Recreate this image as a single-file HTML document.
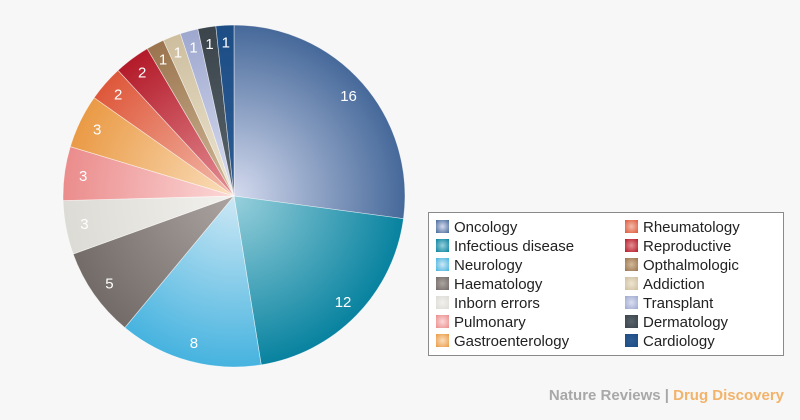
<!DOCTYPE html>
<html><head><meta charset="utf-8"><style>
html,body{margin:0;padding:0;background:#f7f7f7;}
body{width:800px;height:420px;position:relative;overflow:hidden;font-family:"Liberation Sans",sans-serif;}
.leg{position:absolute;left:428px;top:212px;width:356px;height:144px;border:1px solid #8a8a8a;background:#fff;box-sizing:border-box;}
.it{position:absolute;font-size:15px;color:#222;line-height:19px;white-space:nowrap;}
.sw{display:inline-block;width:13px;height:13px;vertical-align:-1px;margin-right:5px;}
.foot{position:absolute;right:16px;top:387px;font-size:15px;font-weight:bold;color:#a8a8a8;}
</style></head><body>
<svg id="pie" width="800" height="420" style="position:absolute;left:0;top:0"></svg>
<div class="leg" id="leg"></div>
<div class="foot">Nature Reviews | <span style="color:#f2b36a">Drug Discovery</span></div>
<script>
var d=[["Oncology",16,"#d4daee","#46699a"],["Infectious disease",12,"#98d0dc","#07829f"],["Neurology",8,"#cde8f5","#46b3df"],["Haematology",5,"#aca4a1","#736b68"],["Inborn errors",3,"#f2f1ed","#dcdbd5"],["Pulmonary",3,"#fcd8d8","#eb8c8c"],["Gastroenterology",3,"#fadfbd","#ea9a45"],["Rheumatology",2,"#f3bcac","#de573a"],["Reproductive",2,"#e48e94","#b31a29"],["Opthalmologic",1,"#d2ba9a","#9a744e"],["Addiction",1,"#eee6d2","#cdbe9e"],["Transplant",1,"#dadef0","#9ea8cf"],["Dermatology",1,"#58636b","#3b444b"],["Cardiology",1,"#2c5c92","#1d4d85"]];
var cx=234,cy=196,r=171,tot=59,a=0,s='<defs>',p='';
var ns='http://www.w3.org/2000/svg';
d.forEach(function(e,i){
 s+='<radialGradient id="g'+i+'" gradientUnits="userSpaceOnUse" cx="'+cx+'" cy="'+cy+'" r="'+r+'"><stop offset="0" stop-color="'+e[2]+'"/><stop offset="1" stop-color="'+e[3]+'"/></radialGradient>';
 var a0=a,a1=a+e[1]/tot*2*Math.PI;a=a1;
 var x0=cx+r*Math.sin(a0),y0=cy-r*Math.cos(a0),x1=cx+r*Math.sin(a1),y1=cy-r*Math.cos(a1);
 p+='<path d="M'+cx+','+cy+'L'+x0+','+y0+'A'+r+','+r+' 0 '+((a1-a0)>Math.PI?1:0)+' 1 '+x1+','+y1+'Z" fill="url(#g'+i+')" stroke="rgba(255,255,255,0.6)" stroke-width="0.7"/>';
 var m=(a0+a1)/2,lr=e[1]>2?0.89*r:0.9*r;
 p+='<text x="'+(cx+lr*Math.sin(m))+'" y="'+(cy-lr*Math.cos(m)+5)+'" fill="#fff" font-size="15" text-anchor="middle" font-family="Liberation Sans,sans-serif">'+e[1]+'</text>';
});
document.getElementById('pie').innerHTML=s+'</defs>'+p;
var L='';
d.forEach(function(e,i){
 var col=i<7?0:1,row=i%7;
 L+='<div class="it" style="left:'+(col?196:7)+'px;top:'+(5+row*19)+'px"><span class="sw" style="background:radial-gradient(circle,'+e[2]+','+e[3]+')"></span>'+e[0]+'</div>';
});
document.getElementById('leg').innerHTML=L;
</script>
</body></html>
